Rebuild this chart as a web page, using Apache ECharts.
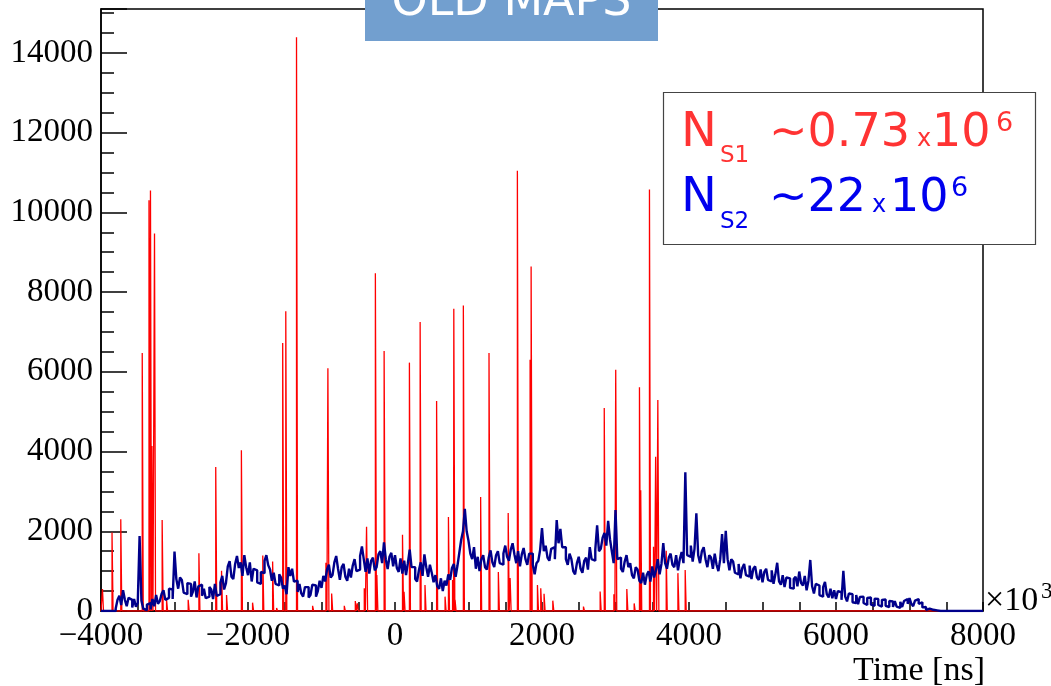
<!DOCTYPE html>
<html><head><meta charset="utf-8">
<script src="https://cdn.jsdelivr.net/npm/echarts@6/dist/echarts.min.js"></script>
<style>html,body{margin:0;padding:0;background:#fff}#c{width:1051px;height:686px}</style>
</head><body><div id="c"></div>
<script>
// ---- DATA ----
const xTicksMajor = [-4000, -2000, 0, 2000, 4000, 6000, 8000];
const yTicksMajor = [0, 2000, 4000, 6000, 8000, 10000, 12000, 14000];

// S2 histogram (blue), bin start and width in ns x10^3
const s2Start = -4000;
const s2Bin = 25;
const s2Counts = [
  0,0, 0,0, 0,0, 0,0, 60,280, 380,150, 520,280, 120,330, 280,90, 300,110, 200,1880, 260,60, 20,160, 200,40, 300,120, 400,180, 250,430, 520,280, 330,560, 540,300,
  1490,800, 560,840, 780,460, 420,700, 680,360, 480,740, 340,620, 660,380, 560,320, 360,600, 540,300, 680,380, 420,720, 880,540, 700,1120, 1250,860, 800,1180, 1380,1080, 1220,880, 1400,1100,
  900,1220, 740,1060, 1020,720, 680,980, 950,1260, 1400,1150, 1040,760, 960,680, 640,920, 840,560, 640,420, 1100,880, 1060,740, 760,480, 680,440, 360,600, 600,340, 400,660, 640,360, 500,760,
  580,880, 740,1040, 1160,840, 900,1220, 1380,1060, 780,1100, 1180,860, 760,1060, 840,1140, 1300,1000, 1040,1380, 1620,1300, 980,1320, 940,1260, 1340,1020, 1100,1420, 1500,1200, 1720,1300, 1050,1360, 1460,1120,
  1400,1080, 980,1320, 940,1260, 900,1200, 1540,1100, 1100,800, 740,1020, 1220,880, 1420,1100, 860,1160, 960,720, 900,620, 560,820, 500,760, 640,920, 780,1080, 1180,860, 1140,1460, 1780,2000, 2560,2000,
  1760,1440, 1300,1600, 1060,1360, 1000,1300, 1400,1100, 1040,1340, 1520,1220, 1100,1400, 1500,1200, 1160,1440, 1640,1360, 1260,1540, 1700,1420, 1200,1500, 1120,1420, 1580,1300, 1160,1440, 1440,1160, 920,1200, 1260,1540,
  2080,1500, 1640,1340, 1260,1560, 1600,1300, 2280,1700, 2060,1600, 1600,1300, 1160,1440, 1300,1000, 920,1200, 1360,1060, 960,1260, 1340,1040, 1600,1300, 1260,1540, 2150,1500, 1560,1840, 1960,1640, 2260,1800, 1500,1200,
  2530,1300, 1340,1060, 980,1240, 1400,1100, 1200,900, 820,1100, 1040,760, 700,960, 660,900, 1000,740, 1120,840, 1020,1300, 920,1180, 1700,1200, 1060,1340, 1440,1160, 1100,1400, 1020,1300, 1480,1200, 3480,1400,
  1360,1640, 1240,1560, 2450,1400, 1200,1500, 1600,1300, 1100,1400, 1340,1060, 1440,1160, 1000,1300, 1930,1200, 2010,1300, 1020,1300, 1240,960, 920,1180, 820,1080, 1180,900, 860,1140, 800,1060, 1120,840, 780,1040,
  720,980, 1060,780, 740,1020, 680,920, 1210,740, 660,900, 600,840, 820,580, 560,800, 860,620, 990,700, 640,880, 520,760, 1280,620, 440,680, 640,400, 360,600, 730,420, 340,560, 320,520,
  300,500, 470,280, 1010,360, 240,440, 420,220, 200,400, 170,350, 360,200, 150,330, 340,160, 130,310, 300,150, 110,280, 290,130, 100,250, 240,100, 250,110, 80,230, 100,250, 300,180,
  320,180, 120,260, 300,180, 220,90, 100,30, 60,20, 30,10, 15,0, 0,0, 0,0, 0,0, 0,0, 0,0, 0,0, 0,0, 0,0, 0,0, 0,0, 0,0, 0,0
];

// S1 histogram (red): sparse non-empty bins
const s1Times = [-3973,-3843,-3724,-3432,-3340,-3320,-3300,-3265,-3161,-3101,-2807,-2661,-2432,-2353,-2285,-2083,-1931,-1792,-1658,-1604,-1521,-1479,-1333,-1114,-933,-906,-855,-683,-533,-506,-411,-380,-260,-240,-141,109,130,203,349,415,573,688,734,790,807,824,937,1051,1172,1286,1413,1547,1573,1672,1845,1859,1945,1990,2035,2154,2571,2798,2854,2985,3010,3161,3261,3333,3350,3469,3524,3553,3583,3697,3856,3955];
const s1Counts = [550,1970,2300,6470,10300,10550,4140,9470,2280,280,280,1450,3610,1010,400,4030,210,1390,1240,75,6720,7520,14390,130,1210,6090,440,130,250,190,570,2115,8470,900,6520,1910,485,6230,7250,650,5270,360,2360,780,7580,280,7660,50,2860,6470,980,2460,830,11040,6300,8640,650,570,430,260,110,490,5090,420,6050,550,190,5610,3030,10575,1610,3870,5290,1510,950,1030];
const s1Bin = 14;

// ---- BUILD ----
const xMin = -4000, xMax = 8000, yMax = 15100;
const s2Data = s2Counts.map((v, i) => [s2Start + i * s2Bin, v]);
s2Data.push([s2Start + s2Counts.length * s2Bin, s2Counts[s2Counts.length - 1]]);

const s1Data = [[xMin, 0]];
s1Times.forEach((t, i) => {
  const a = t - s1Bin / 2, b = t + s1Bin / 2;
  s1Data.push([a, 0], [a, s1Counts[i]], [b, s1Counts[i]], [b, 0]);
});
s1Data.push([xMax, 0]);

const minus = v => (v < 0 ? '\u2212' + Math.abs(v) : String(v));
const serif = 'Liberation Serif';
const sans = 'DejaVu Sans';
const RED = '#ff3333', BLUE = '#0000ee';

function txt(x, y, s, size, color, font, align) {
  return { type: 'text', x: x, y: y, z: 100,
    style: { text: s, fill: color, font: size + 'px "' + font + '"', textAlign: align || 'left', textVerticalAlign: 'middle' } };
}

const chart = echarts.init(document.getElementById('c'), null, { renderer: 'canvas' });
chart.setOption({
  animation: false,
  backgroundColor: '#fff',
  grid: { left: 101, right: 68, top: 9, bottom: 75, show: true, borderColor: '#000', borderWidth: 1.5, backgroundColor: 'transparent', containLabel: false },
  xAxis: {
    type: 'value', min: xMin, max: xMax, interval: 500,
    axisLine: { show: true, onZero: false, lineStyle: { color: '#000', width: 1.5 } },
    axisTick: { show: true, inside: true, length: 9, lineStyle: { color: '#000', width: 1.5 } },
    axisLabel: { margin: 9, color: '#000', fontFamily: serif, fontSize: 33,
      formatter: v => (xTicksMajor.indexOf(v) >= 0 ? minus(v) : '') },
    splitLine: { show: false }
  },
  yAxis: [{
    type: 'value', min: 0, max: yMax, interval: 2000, position: 'left',
    axisLine: { show: true, onZero: false, lineStyle: { color: '#000', width: 1.5 } },
    axisTick: { show: true, inside: true, length: 26, lineStyle: { color: '#000', width: 1.5 } },
    axisLabel: { margin: 8, color: '#000', fontFamily: serif, fontSize: 33,
      formatter: v => (yTicksMajor.indexOf(v) >= 0 ? String(v) : '') },
    splitLine: { show: false }
  }, {
    type: 'value', min: 0, max: yMax, interval: 500, position: 'left',
    axisLine: { show: false, onZero: false },
    axisTick: { show: true, inside: true, length: 13, lineStyle: { color: '#000', width: 1.5 } },
    axisLabel: { show: false },
    splitLine: { show: false }
  }],
  series: [{
    type: 'line', data: s1Data, symbol: 'none', silent: true, z: 2,
    lineStyle: { color: '#ff0000', width: 1.3 }
  }, {
    type: 'line', data: s2Data, step: 'end', symbol: 'none', silent: true, z: 3,
    lineStyle: { color: '#00008b', width: 2.4 }
  }],
  graphic: [
    { type: 'rect', shape: { x: 365, y: 0, width: 293, height: 41 }, style: { fill: '#729fcf' }, z: 100 },
    txt(511.5, 3.5, 'OLD MAPS', 46, '#fff', sans, 'center'),
    { type: 'rect', shape: { x: 663.5, y: 92.5, width: 372, height: 152 }, style: { fill: '#fff', stroke: '#444', lineWidth: 1.2 }, z: 100 },
    txt(681, 133.3, 'N', 48, RED, sans),
    txt(720, 156.4, 'S1', 23, RED, sans),
    txt(769, 133.9, '~0.73', 46, RED, sans),
    txt(917, 139.8, 'x', 24, RED, sans),
    txt(932, 133.9, '10', 46, RED, sans),
    txt(996, 123.6, '6', 27, RED, sans),
    txt(681, 198.9, 'N', 48, BLUE, sans),
    txt(720, 222, 'S2', 23, BLUE, sans),
    txt(769, 199.5, '~22', 46, BLUE, sans),
    txt(872, 205.8, 'x', 24, BLUE, sans),
    txt(890, 199.5, '10', 46, BLUE, sans),
    txt(951, 188.9, '6', 27, BLUE, sans),
    txt(985, 601, '\u00d710', 34, '#000', serif),
    txt(1041, 592, '3', 23, '#000', serif),
    txt(985, 671, 'Time [ns]', 34, '#000', serif, 'right')
  ]
});
</script>
</body></html>
